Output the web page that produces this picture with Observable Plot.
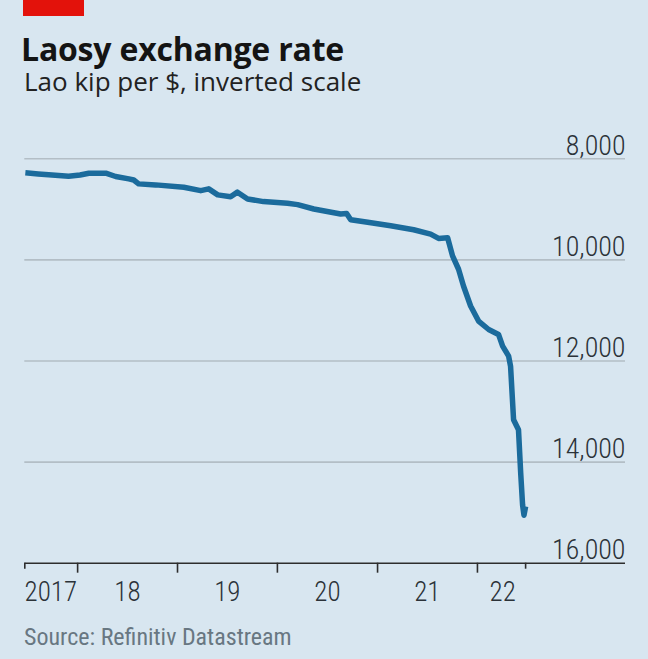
<!DOCTYPE html>
<html>
<head>
<meta charset="utf-8">
<script src="https://cdn.jsdelivr.net/npm/d3@7"></script>
<script src="https://cdn.jsdelivr.net/npm/@observablehq/plot@0.6"></script>
<style>
  html, body { margin: 0; padding: 0; background: #d8e6f0; }
  #wrap { position: relative; width: 648px; height: 659px; background: #d8e6f0; overflow: hidden; }
  #red { position: absolute; left: 23px; top: 0; width: 61px; height: 16px; background: #e3120b; }
  .t { position: absolute; white-space: nowrap; margin: 0; line-height: 1; }
  #title { left: 21px; top: 26.5px; font: 700 32px "Open Sans", sans-serif; color: #141414; letter-spacing: -0.2px; }
  #sub { left: 24px; top: 63px; font: 400 26px "Open Sans", sans-serif; color: #222; }
  #src { left: 24px; top: 622.5px; font: 400 24px "Roboto Condensed", sans-serif; font-stretch: condensed; color: #687782; }
  #chart { position: absolute; left: 0; top: 0; }
</style>
</head>
<body>
<div id="wrap">
  <div id="red"></div>
  <div class="t" id="title">Laosy exchange rate</div>
  <div class="t" id="sub">Lao kip per $, inverted scale</div>
  <div class="t" id="src">Source: Refinitiv Datastream</div>
  <div id="chart"></div>
</div>
<script>
// Kip per US dollar
const dates = ["2017-06-24","2017-08-10","2017-09-17","2017-11-29","2018-01-10","2018-02-11","2018-04-14","2018-05-20","2018-07-07","2018-07-25","2018-08-12","2018-10-13",
  "2019-01-24","2019-03-27","2019-04-25","2019-05-28","2019-07-14","2019-08-08","2019-09-14","2019-11-11",
  "2020-02-07","2020-03-15","2020-05-13","2020-08-19","2020-09-10","2020-09-25","2020-11-26",
  "2021-02-18","2021-05-13","2021-07-14","2021-08-12","2021-09-14","2021-10-02","2021-10-24","2021-11-11","2021-12-07",
  "2022-01-05","2022-02-11","2022-03-19","2022-04-03","2022-04-25","2022-05-02","2022-05-13","2022-05-31","2022-06-08",
  "2022-06-15","2022-06-20","2022-06-26"];
const kip = [8277,8300,8317,8345,8320,8285,8285,8350,8397,8420,8496,8516,
  8563,8630,8595,8714,8750,8660,8795,8847,
  8880,8907,8993,9092,9080,9205,9257,
  9325,9404,9490,9575,9560,9920,10185,10516,10912,
  11210,11377,11475,11707,11905,12103,13161,13360,14213,
  14850,15050,14880];

const yTicks = [8000, 10000, 12000, 14000, 16000];
const gridValues = [8000, 10000, 12000, 14000];
const yearTicks = ["2018-01-01","2019-01-01","2020-01-01","2021-01-01","2022-01-01"];
const edgeTicks = ["2017-06-22","2022-06-26"];
const labelDates = ["2017-09-25","2018-07-02","2019-07-02","2020-07-02","2021-07-02","2022-04-03"];
const labelTexts = ["2017","18","19","20","21","22"];
const xDomain = ["2017-06-22","2023-06-26"];

const data = dates.map((d, i) => ({date: new Date(d), value: kip[i]}));
const toDate = s => new Date(s);
const labelMs = labelDates.map(d => +new Date(d));

const axisFont = '"Roboto Condensed", sans-serif';

const chart = Plot.plot({
  width: 648,
  height: 659,
  marginTop: 158.3,
  marginBottom: 96.3,
  marginLeft: 24.3,
  marginRight: 23,
  style: {background: "transparent", fontFamily: axisFont, fontStretch: "condensed", fontWeight: 350, overflow: "visible"},
  x: {type: "utc", domain: xDomain.map(toDate)},
  y: {domain: [8000, 16000], reverse: true},
  marks: [
    Plot.ruleY(gridValues, {stroke: "#b3bec6", strokeWidth: 1.6}),
    Plot.ruleY([16000], {stroke: "#2d2d2d", strokeWidth: 1.6}),
    Plot.line(data, {x: "date", y: "value", stroke: "#1b6b9c", strokeWidth: 5.5, strokeLinejoin: "round", strokeLinecap: "butt"}),
    Plot.axisY(yTicks, {anchor: "right", tickSize: 0, tickPadding: 0, textAnchor: "end", dy: -13, fontSize: 28, fill: "#2b3238", tickFormat: d3.format(","), label: null}),
    Plot.axisX(yearTicks.map(toDate), {anchor: "bottom", tickSize: 10, strokeWidth: 1.6, stroke: "#2d2d2d", tickFormat: () => "", label: null}),
    Plot.axisX(edgeTicks.map(toDate), {anchor: "bottom", tickSize: 6, strokeWidth: 1.6, stroke: "#2d2d2d", tickFormat: () => "", label: null}),
    Plot.axisX(labelDates.map(toDate), {anchor: "bottom", tickSize: 0, tickPadding: 19, fontSize: 27, fill: "#2b3238",
      tickFormat: d => labelTexts[labelMs.indexOf(+d)], label: null})
  ]
});
document.getElementById("chart").appendChild(chart);
</script>
</body>
</html>
